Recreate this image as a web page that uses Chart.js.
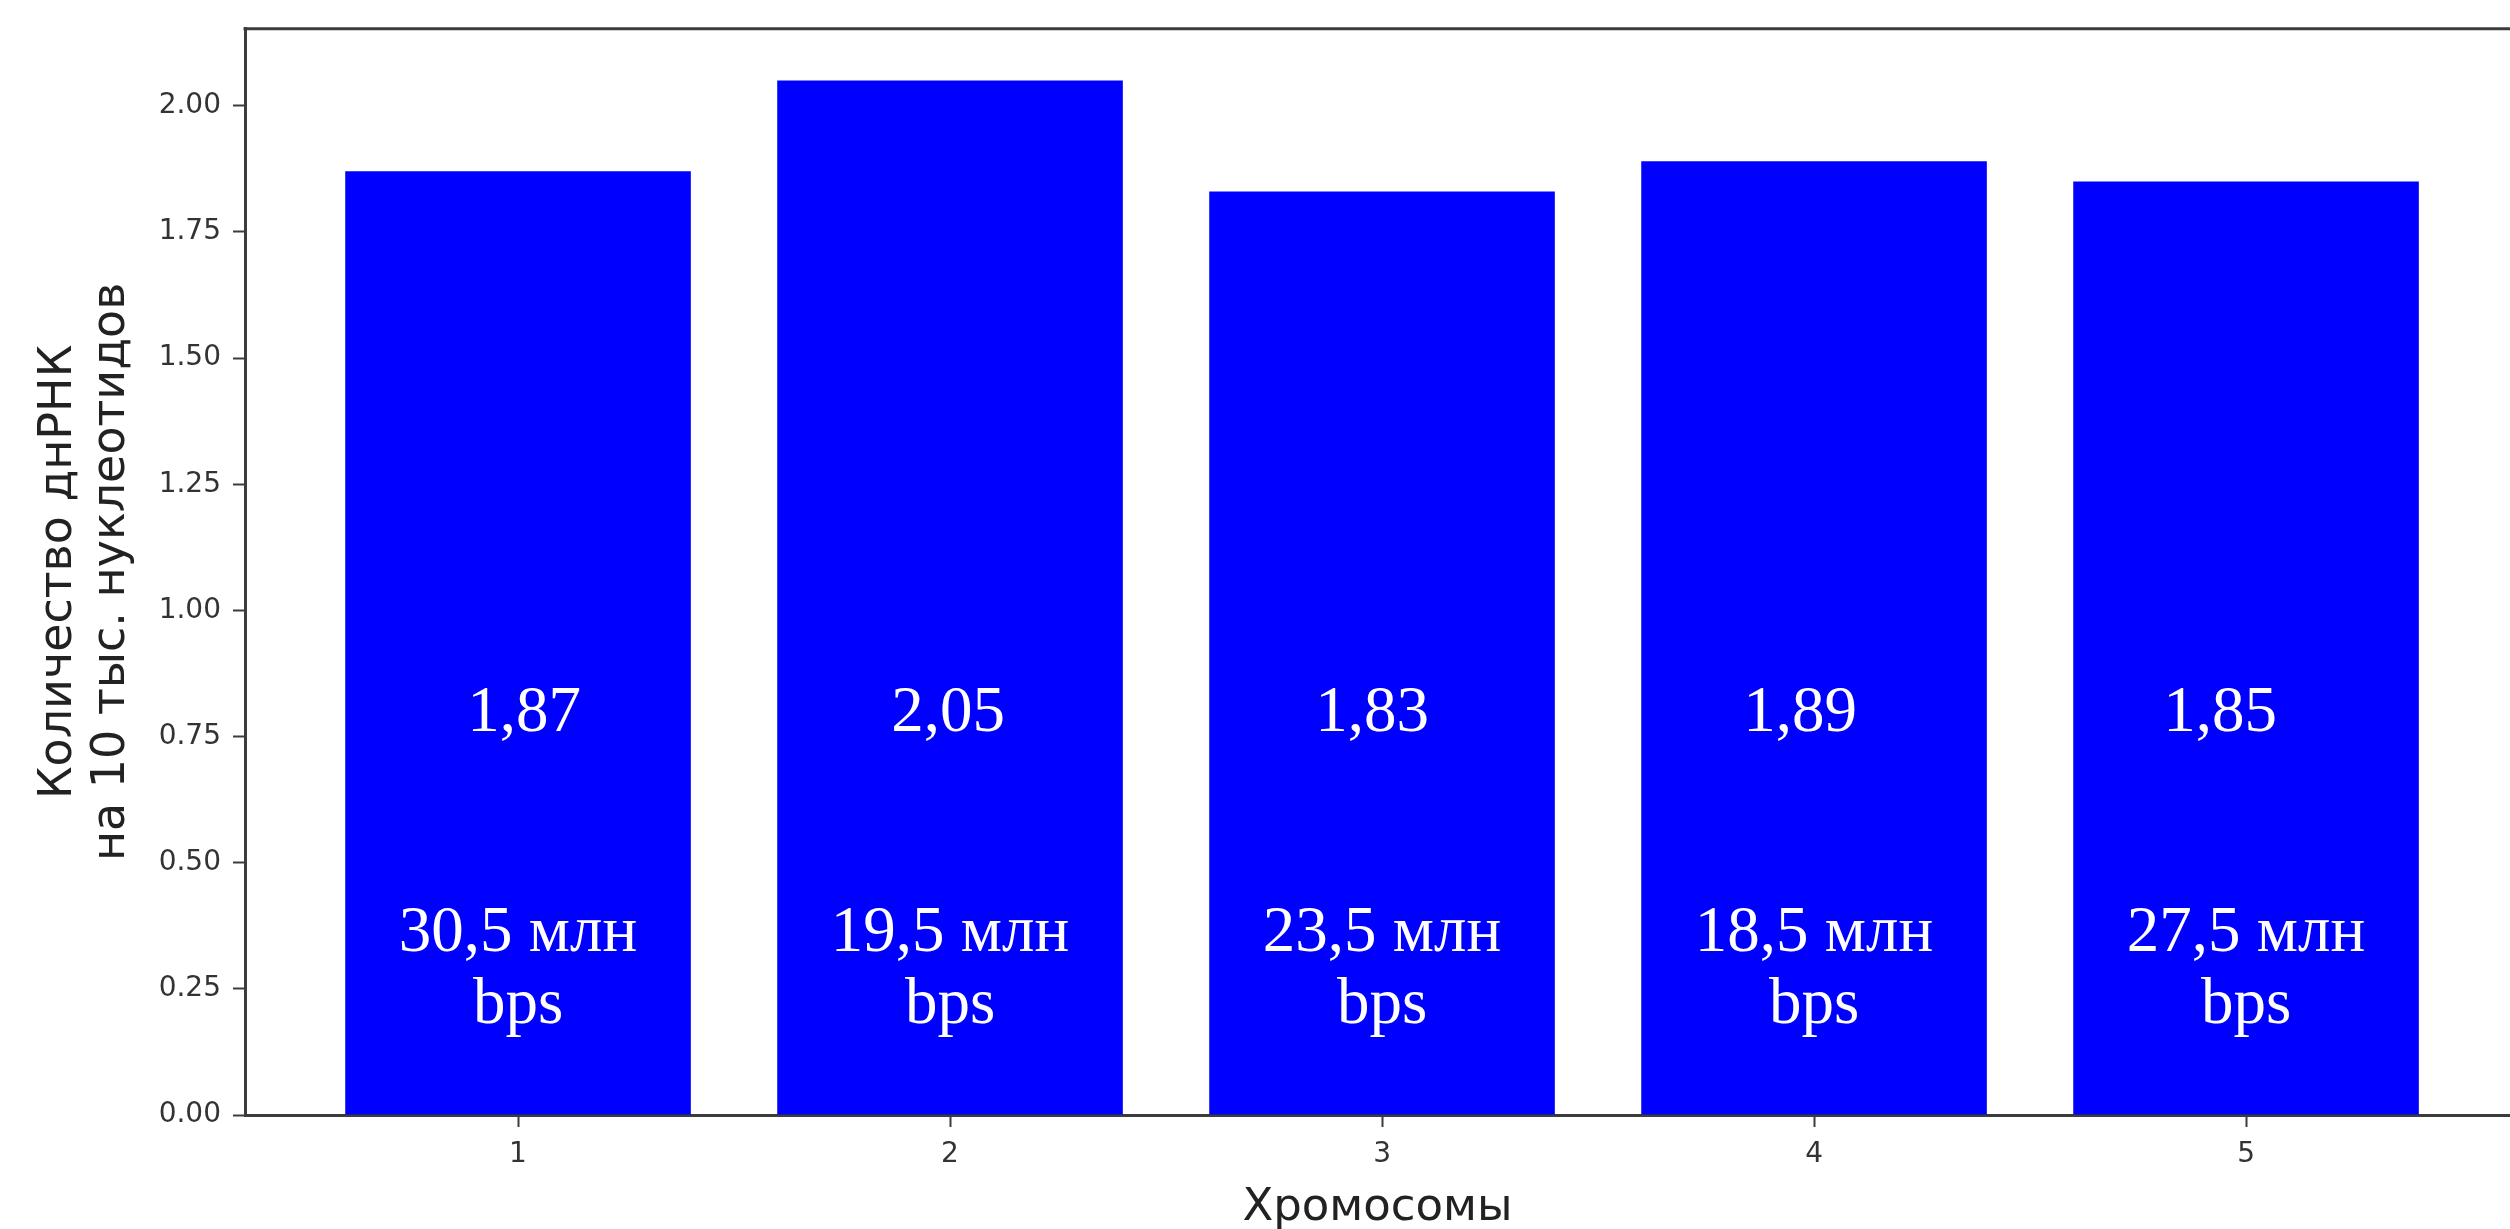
<!DOCTYPE html>
<html lang="ru">
<head>
<meta charset="utf-8">
<title>Количество днРНК на 10 тыс. нуклеотидов по хромосомам</title>
<script src="https://cdn.jsdelivr.net/npm/chart.js@4/dist/chart.umd.min.js"></script>
<style>
  html, body { margin: 0; padding: 0; background: #ffffff; overflow: hidden; }
  #wrap { position: relative; width: 2510px; height: 1229px; }
</style>
</head>
<body>
<div id="wrap"><canvas id="chart"></canvas></div>
<script>
// Chromosome numbers along the x axis
const chromosomes = ['1', '2', '3', '4', '5'];
// dnRNA count per 10 thousand nucleotides, one value per chromosome
const densityPer10kb = [1.87, 2.05, 1.83, 1.89, 1.85];
// Chromosome length, millions of base pairs
const chromosomeSizeMln = [30.5, 19.5, 23.5, 18.5, 27.5];
// Y axis range and tick step
const yMin = 0;
const yMax = 2.1525;
const yStep = 0.25;

const AXIS_COLOR = '#3c3c3c';
const TEXT_COLOR = '#333333';
const SANS = '"DejaVu Sans", sans-serif';
const SERIF = '"Liberation Serif", "Times New Roman", serif';

// Where the in-bar annotations sit, in y-axis units, plus small horizontal nudges (px)
const VALUE_LABEL_Y = 0.76;
const VALUE_LABEL_NUDGE = [6, -2, -10, -14, -26];
const SIZE_LABEL_Y = 0.325;
const SIZE_LINE_GAP = 72;

const fmtComma = (v, d) => v.toFixed(d).replace('.', ',');

const barPoints = chromosomes.map((c, i) => ({ x: i + 1, y: densityPer10kb[i] }));

// Top spine of the axes frame
const frameTop = {
  id: 'frameTop',
  afterDraw(chart) {
    const { ctx, chartArea } = chart;
    ctx.save();
    ctx.strokeStyle = AXIS_COLOR;
    ctx.lineWidth = 3;
    ctx.beginPath();
    ctx.moveTo(chartArea.left - 1.5, chartArea.top);
    ctx.lineTo(chartArea.right, chartArea.top);
    ctx.stroke();
    ctx.restore();
  }
};

// White text inside each bar: the density value and the chromosome size
const barText = {
  id: 'barText',
  afterDatasetsDraw(chart) {
    const { ctx, scales } = chart;
    const xs = scales.x, ys = scales.y;
    ctx.save();
    ctx.fillStyle = '#ffffff';
    ctx.textAlign = 'center';
    ctx.textBaseline = 'alphabetic';
    ctx.font = '65px ' + SERIF;
    chromosomes.forEach((c, i) => {
      const px = xs.getPixelForValue(i + 1);
      ctx.fillText(fmtComma(densityPer10kb[i], 2), px + VALUE_LABEL_NUDGE[i], ys.getPixelForValue(VALUE_LABEL_Y));
      const sy = ys.getPixelForValue(SIZE_LABEL_Y);
      ctx.fillText(fmtComma(chromosomeSizeMln[i], 1) + ' млн', px, sy);
      ctx.fillText('bps', px, sy + SIZE_LINE_GAP);
    });
    ctx.restore();
  }
};

new Chart(document.getElementById('chart'), {
  type: 'bar',
  data: {
    datasets: [{
      data: barPoints,
      backgroundColor: '#0000ff',
      borderWidth: 0,
      barPercentage: 0.8,
      categoryPercentage: 1.0
    }]
  },
  options: {
    responsive: true,
    maintainAspectRatio: false,
    animation: false,
    events: [],
    layout: { padding: { top: 26, right: 0, bottom: 0, left: 0 } },
    plugins: {
      legend: { display: false },
      tooltip: { enabled: false },
      title: { display: false }
    },
    scales: {
      x: {
        type: 'linear',
        offset: false,
        min: 0.368,
        max: 5.611,
        afterFit(scale) { scale.height = 114; },
        grid: {
          display: true,
          offset: false,
          drawOnChartArea: false,
          drawTicks: true,
          tickLength: 12,
          tickWidth: 2,
          color: AXIS_COLOR
        },
        border: { display: true, color: AXIS_COLOR, width: 3 },
        ticks: {
          stepSize: 1,
          includeBounds: false,
          autoSkip: false,
          maxRotation: 0,
          padding: 11,
          color: TEXT_COLOR,
          font: { family: SANS, size: 28 },
          callback: (v) => chromosomes[v - 1] ?? ''
        },
        title: {
          display: true,
          text: 'Хромосомы',
          color: '#222222',
          font: { family: SANS, size: 45, lineHeight: 0.92 },
          padding: { top: 0, bottom: 0 }
        }
      },
      y: {
        min: yMin,
        max: yMax,
        afterFit(scale) { scale.width = 245; },
        grid: {
          display: true,
          drawOnChartArea: false,
          drawTicks: true,
          tickLength: 12,
          tickWidth: 2,
          color: AXIS_COLOR
        },
        border: { display: true, color: AXIS_COLOR, width: 3 },
        ticks: {
          stepSize: yStep,
          includeBounds: false,
          padding: 12,
          color: TEXT_COLOR,
          font: { family: SANS, size: 28 },
          callback: (v) => v.toFixed(2)
        },
        title: {
          display: true,
          text: ['Количество днРНК', 'на 10 тыс. нуклеотидов'],
          color: '#222222',
          font: { family: SANS, size: 46, lineHeight: 1.15 },
          padding: { top: 33, bottom: 0 }
        }
      }
    }
  },
  plugins: [frameTop, barText]
});
</script>
</body>
</html>
